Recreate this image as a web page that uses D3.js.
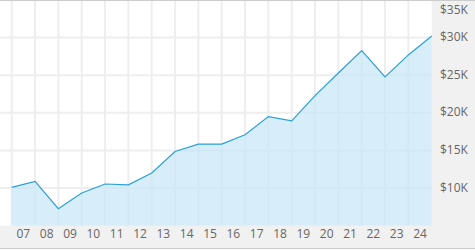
<!DOCTYPE html>
<html>
<head>
<meta charset="utf-8">
<script src="https://cdn.jsdelivr.net/npm/d3@7"></script>
<style>
html,body{margin:0;padding:0;background:#fff;}
svg{display:block;}
text{font-family:"Open Sans",sans-serif;font-size:12px;fill:#666;}
</style>
</head>
<body>
<svg id="chart" width="475" height="250"></svg>
<script>
const yearLabels = ["07","08","09","10","11","12","13","14","15","16","17","18","19","20","21","22","23","24"];
const pointYears = [2007,2008,2009,2010,2011,2012,2013,2014,2015,2016,2017,2018,2019,2020,2021,2022,2023,2024,2025];
const values = [10100,10880,7260,9340,10540,10430,12000,14860,15850,15850,17080,19510,18940,22300,25300,28270,24780,27700,30220];
const yTicks = [10000,15000,20000,25000,30000,35000];

const W = 475, H = 250;
const plotRight = 431.7, plotBottom = 225.7;
const svg = d3.select("#chart");

const x = d3.scaleLinear().domain([2007, 2025]).range([11.7, plotRight]);
const y = d3.scaleLinear().domain([5000, 35000]).range([plotBottom, 0]);

// panels
svg.append("rect").attr("x", plotRight).attr("y", 0).attr("width", W - plotRight).attr("height", 249).attr("fill", "#f1f1f1");
svg.append("rect").attr("x", 0).attr("y", plotBottom).attr("width", W).attr("height", 249 - plotBottom).attr("fill", "#f1f1f1");

// grid
const grid = svg.append("g");
pointYears.slice(0, -1).forEach(yr => {
  grid.append("line").attr("x1", x(yr)).attr("x2", x(yr)).attr("y1", 0).attr("y2", plotBottom)
    .attr("stroke", "#eeeeee").attr("stroke-width", 2);
});
yTicks.slice(0, -1).forEach(v => {
  grid.append("line").attr("x1", 0).attr("x2", plotRight).attr("y1", y(v)).attr("y2", y(v))
    .attr("stroke", "#eeeeee").attr("stroke-width", 2);
});

const pts = pointYears.map((yr, i) => [yr, values[i]]);
const area = d3.area().x(d => x(d[0])).y0(plotBottom).y1(d => y(d[1]));
const line = d3.line().x(d => x(d[0])).y(d => y(d[1]));

svg.append("path").datum(pts).attr("d", area).attr("fill", "#c6e6f7").attr("fill-opacity", 0.7);
svg.append("path").datum(pts).attr("d", line).attr("fill", "none").attr("stroke", "#2a9fdc").attr("stroke-width", 1.2);

// borders
svg.append("line").attr("x1", 0).attr("x2", W).attr("y1", 0.5).attr("y2", 0.5).attr("stroke", "#cccccc").attr("stroke-width", 1);
svg.append("line").attr("x1", 0).attr("x2", W).attr("y1", 248.5).attr("y2", 248.5).attr("stroke", "#cccccc").attr("stroke-width", 1);

// x labels
svg.append("g").selectAll("text").data(yearLabels).join("text")
  .attr("x", (d, i) => x(pointYears[i] + 0.5))
  .attr("y", 237.5)
  .attr("text-anchor", "middle")
  .text(d => d);

// y labels
svg.append("g").selectAll("text").data(yTicks).join("text")
  .attr("x", 440)
  .attr("y", d => Math.max(y(d), 10.5) + 3.5)
  .text(d => "$" + d3.format(",")(d / 1000) + "K");
</script>
</body>
</html>
